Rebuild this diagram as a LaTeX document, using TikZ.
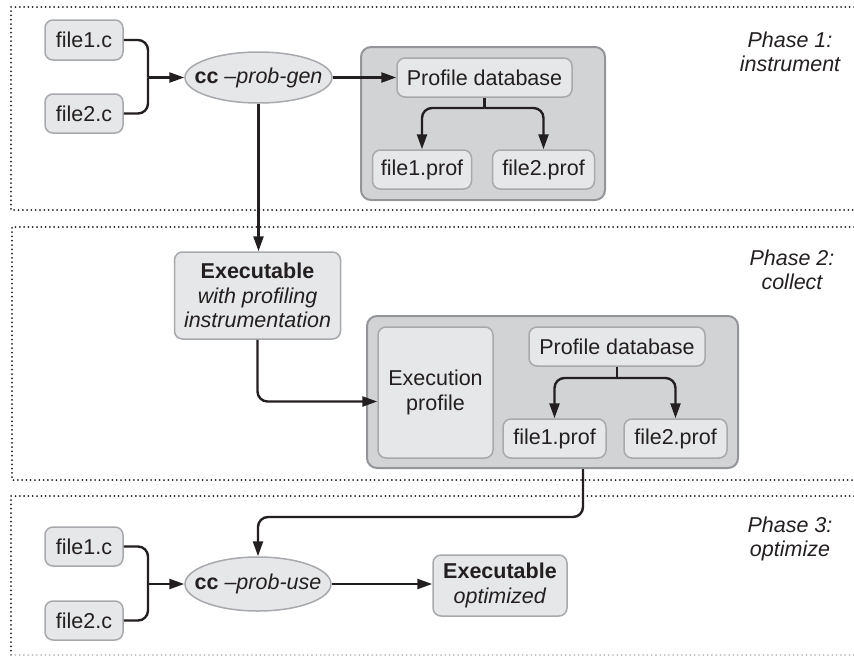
\documentclass[tikz,border=0pt]{standalone}
\usepackage{fontspec}
\setmainfont{Liberation Sans}
\usetikzlibrary{arrows.meta,shapes.geometric,calc}
\definecolor{nodefill}{HTML}{E6E7E8}
\definecolor{nodeline}{HTML}{A7A9AC}
\definecolor{contfill}{HTML}{D1D3D4}
\definecolor{contline}{HTML}{939598}
\definecolor{ink}{HTML}{231F20}
\definecolor{lightdots}{HTML}{BCBEC0}
\begin{document}
\begin{tikzpicture}[x=1pt,y=-1pt,
  every node/.style={font=\fontsize{21.5}{24.5}\selectfont, text=ink},
  box/.style={draw=nodeline, fill=nodefill, line width=1.5pt, rounded corners=8pt, inner sep=0pt, align=center},
  cont/.style={draw=contline, fill=contfill, line width=2pt, rounded corners=10pt, inner sep=0pt},
  oval/.style={ellipse, draw=nodeline, fill=nodefill, line width=1.5pt, inner sep=0pt},
  conn/.style={draw=ink, line width=2.4pt, rounded corners=10pt},
  arr/.style={conn, -{Triangle[length=15pt,width=10pt]}},
  frame/.style={draw=ink, line width=2pt, line cap=round, dash pattern=on 0pt off 4.3pt},
  phase/.style={font=\fontsize{21.5}{24.5}\selectfont\itshape, align=center}]
\useasboundingbox (0,0) rectangle (854,657);

% phase frames
\draw[frame] (854,7) -- (11,7) -- (11,210) -- (854,210);
\draw[frame] (854,227) -- (12,227) -- (12,480) -- (854,480);
\draw[frame] (854,496) -- (11,496) -- (11,655);
\draw[frame, draw=lightdots] (11,655) -- (854,655);

% Phase 1
\node[box, minimum width=78pt, minimum height=40pt] (f1c) at (84,40) {file1.c};
\node[box, minimum width=78pt, minimum height=39pt] (f2c) at (84,113.5) {file2.c};
\node[oval, minimum width=147pt, minimum height=51pt] (ccgen) at (258.5,77.5) {\makebox[0pt][c]{\textbf{cc} \textit{–prob-gen}}};
\node[cont, minimum width=244pt, minimum height=153pt] (cont1) at (483,123.5) {};
\node[box, minimum width=175pt, minimum height=39pt] (pdb1) at (484.5,77.5) {Profile database};
\node[box, minimum width=99pt, minimum height=39pt] (f1p1) at (422,169.5) {file1.prof};
\node[box, minimum width=102pt, minimum height=39pt] (f2p1) at (543.5,169.5) {file2.prof};
\node[phase] (ph1) at (790,52) {Phase 1:\\instrument};

\coordinate (j1) at (148,77.5);
\draw[conn] (f1c.east) -| (j1);
\draw[conn] (f2c.east) -| (j1);
\draw[arr] (j1) -- (ccgen.west);
\draw[arr] (ccgen.east) -- (pdb1.west);
\coordinate (b1) at (484.5,108);
\draw[conn] (pdb1.south) -- (b1);
\draw[arr] (b1) -| (f1p1.north);
\draw[arr] (b1) -| (f2p1.north);

% Phase 2
\node[box, minimum width=166pt, minimum height=87pt] (exe) at (257.5,295.5) {\textbf{Executable}\\\textit{with profiling}\\\textit{instrumentation}};
\node[cont, minimum width=371pt, minimum height=152pt] (cont2) at (552.5,392) {};
\node[box, minimum width=115pt, minimum height=131pt] (execprof) at (435.5,392.5) {Execution\\profile};
\node[box, minimum width=176pt, minimum height=39pt] (pdb2) at (617,346.5) {Profile database};
\node[box, minimum width=103pt, minimum height=39pt] (f1p2) at (554.5,438.5) {file1.prof};
\node[box, minimum width=103pt, minimum height=39pt] (f2p2) at (675.5,438.5) {file2.prof};
\node[phase] (ph2) at (792,270) {Phase 2:\\collect};

\draw[arr] (ccgen.south) -- (ccgen.south |- exe.north);
\draw[arr] (exe.south) |- ([yshift=-9pt]execprof.west);
\coordinate (b2) at (617,378);
\draw[conn] (pdb2.south) -- (b2);
\draw[arr] (b2) -| (f1p2.north);
\draw[arr] (b2) -| (f2p2.north);

% Phase 3
\node[box, minimum width=78pt, minimum height=39pt] (f1c3) at (84,546.5) {file1.c};
\node[box, minimum width=78pt, minimum height=39pt] (f2c3) at (84,620.5) {file2.c};
\node[oval, minimum width=146pt, minimum height=54pt] (ccuse) at (258,584) {\makebox[0pt][c]{\textbf{cc} \textit{–prob-use}}};
\node[box, minimum width=134pt, minimum height=61pt] (exeopt) at (500,585.5) {\textbf{Executable}\\\textit{optimized}};
\node[phase] (ph3) at (790,539) {Phase 3:\\optimize};

\coordinate (j3) at (148,584);
\draw[conn] (f1c3.east) -| (j3);
\draw[conn] (f2c3.east) -| (j3);
\draw[arr] (j3) -- (ccuse.west);
\draw[arr] (ccuse.east) -- (ccuse.east -| exeopt.west);
\coordinate (t1) at (583,517);
\draw[arr] ([xshift=30.5pt]cont2.south) |- (ccuse.north |- t1) -- (ccuse.north);
\end{tikzpicture}
\end{document}
